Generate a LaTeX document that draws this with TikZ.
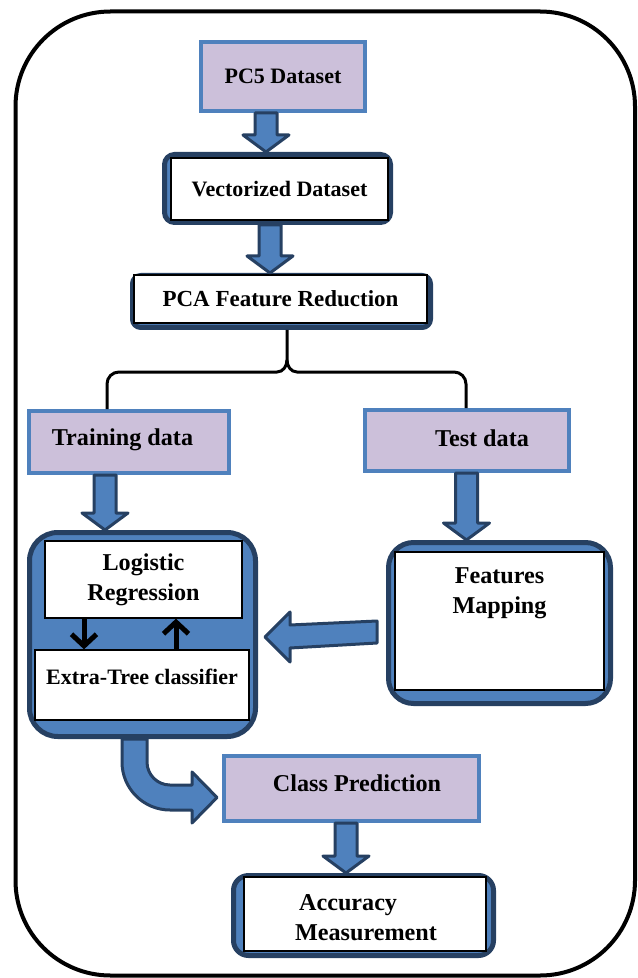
\documentclass[tikz,border=0pt]{standalone}
\usepackage{fontspec}
\setmainfont{Liberation Serif}
\usetikzlibrary{calc,arrows.meta}
\definecolor{lavender}{HTML}{CCC0DA}
\definecolor{boxblue}{HTML}{4F81BD}
\definecolor{navyline}{RGB}{38,64,98}
\newcommand{\bigbold}{\bfseries\fontsize{14.5}{18}\selectfont}
\newcommand{\smallbold}{\bfseries\fontsize{13.2}{16}\selectfont}
\tikzset{
  every node/.style={font=\bigbold,inner sep=0pt,align=center},
  dataset/.style={draw=boxblue,fill=lavender,line width=2.4pt},
  roundbox/.style={draw=navyline,fill=boxblue,line width=3pt},
  whitebox/.style={draw=black,fill=white,line width=0.8pt},
  blockarrow/.style={draw=navyline,fill=boxblue,line width=1.8pt,line join=round},
  splitline/.style={line width=1.8pt},
  smallarrow/.style={line width=3pt,-{Straight Barb[length=7pt,width=15pt]}}
}
% thick arrow pointing down: x, upper node, lower node
\newcommand{\blockdown}[3]{%
  \filldraw[blockarrow] let \p1=(#1,0 |- #2.south), \p2=(#1,0 |- #3.north) in
    (\x1-6.6pt,\y1)--(\x1-6.6pt,\y2+10.2pt)--(\x1-13.8pt,\y2+10.2pt)--(\x1,\y2)
    --(\x1+13.8pt,\y2+10.2pt)--(\x1+6.6pt,\y2+10.2pt)--(\x1+6.6pt,\y1)--cycle;}
\begin{document}
\begin{tikzpicture}[x=0.6pt,y=-0.6pt]
\useasboundingbox (0,0) rectangle (638,978);
%frame
\draw[line width=2.4pt,rounded corners=57pt](15.5,11.5) rectangle (635,975.5);
%top
\node[dataset,minimum width=98.4pt,minimum height=41.4pt,font=\smallbold](pc5) at (283,76.5){PC5 Dataset};
\node[roundbox,rounded corners=6pt,minimum width=135.6pt,minimum height=40.8pt](vecout) at (277.5,188.5){};
\node[whitebox,minimum width=130.2pt,minimum height=37.2pt,font=\smallbold](vec) at (279.5,189){Vectorized Dataset};
\node[roundbox,rounded corners=5pt,minimum width=178.8pt,minimum height=31.2pt](pcaout) at (281.5,301.5){};
\node[whitebox,minimum width=175.8pt,minimum height=28.8pt,font=\bfseries\fontsize{13.8}{16}\selectfont](pca) at (280.5,299){PCA Feature Reduction};
%split
\node[dataset,minimum width=120pt,minimum height=37.2pt,label={[xshift=-3.9pt,yshift=1.2pt]center:Training data}](train) at (129,442){};
\node[dataset,minimum width=122.4pt,minimum height=36.6pt,label={[xshift=9pt,yshift=1.5pt]center:Test data}](test) at (467,440.5){};
\draw[splitline](287,0 |- pcaout.south)--(287,360)to[out=-90,in=0](277,372)--(119,372)
  to[out=180,in=90](107,384)--(107,0 |- train.north);
\draw[splitline](287,360)to[out=-90,in=180](297,372)--(454,372)
  to[out=0,in=90](466,384)--(466,0 |- test.north);
%learning
\node[roundbox,rounded corners=17pt,minimum width=135.6pt,minimum height=122.4pt](learnout) at (142.5,634.5){};
\node[whitebox,minimum width=118.2pt,minimum height=46.2pt](logreg) at (143.5,579.5){Logistic\\Regression};
\node[whitebox,minimum width=128.4pt,minimum height=42pt,label={[yshift=4.8pt,font=\smallbold]center:Extra-Tree classifier}](extra) at (142,685){};
\draw[smallarrow](84,0 |- logreg.south)--(84,0 |- extra.north);
\draw[smallarrow](176,0 |- extra.north)--(176,0 |- logreg.south);
%mapping
\node[roundbox,rounded corners=15pt,minimum width=133.2pt,minimum height=96.6pt](featout) at (499.5,623){};
\node[whitebox,minimum width=125.4pt,minimum height=82.8pt,label={[yshift=16.8pt]center:Features\\Mapping}](feat) at (499.5,621){};
%bottom
\node[dataset,minimum width=153pt,minimum height=39pt,label={[xshift=3.3pt,yshift=3.3pt]center:Class Prediction}](pred) at (351.5,788.5){};
\node[roundbox,rounded corners=9pt,minimum width=156pt,minimum height=48pt](accout) at (363.5,915.5){};
\node[whitebox,minimum width=145.2pt,minimum height=44.4pt,label={[xshift=0.6pt,yshift=-2pt,align=left]center:\hspace*{2.4pt}Accuracy\\Measurement}](acc) at (365,914){};
%arrows
\blockdown{266}{pc5}{vecout}
\blockdown{270}{vecout}{pcaout}
\blockdown{105}{train}{learnout}
\blockdown{466.5}{test}{featout}
\blockdown{346}{pred}{accout}
\filldraw[blockarrow](265,637)--(290,612)--(290,625)--(377,621)--(377,643)--(290,648)--(290,662)--cycle;
\filldraw[blockarrow](147,739)--(122,739)--(122,762)arc(180:270:28.8pt)--(192,810)--(192,823)
  --(217,797.5)--(192,772)--(192,785)--(170,785)arc(270:180:13.8pt)--cycle;
\end{tikzpicture}
\end{document}
